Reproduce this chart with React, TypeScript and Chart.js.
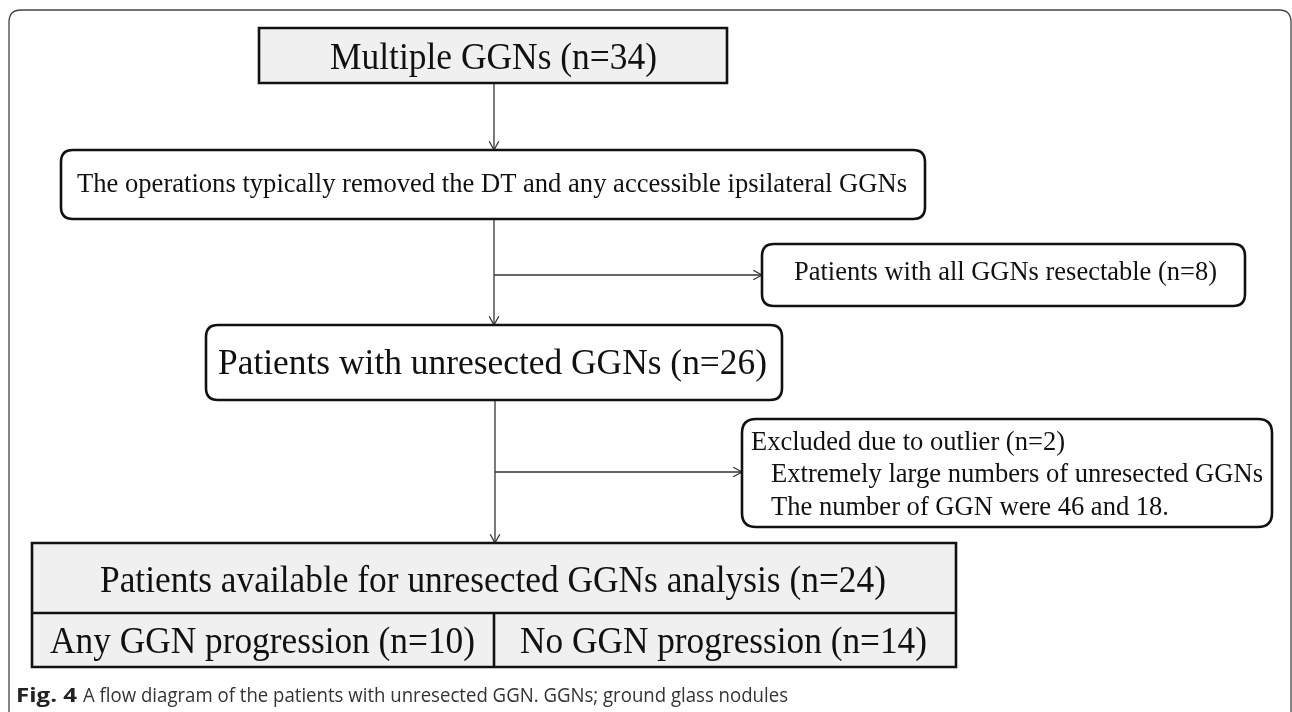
import React, { useEffect, useRef } from "react";
import { Chart, registerables } from "chart.js";

Chart.register(...registerables);

// ---------- content ----------
const nodeLabels = [
  "Multiple GGNs",
  "The operations typically removed the DT and any accessible ipsilateral GGNs",
  "Patients with all GGNs resectable",
  "Patients with unresected GGNs",
  "Excluded due to outlier",
  "Patients available for unresected GGNs analysis",
  "Any GGN progression",
  "No GGN progression",
];
const nodeCounts: (number | null)[] = [34, null, 8, 26, 2, 24, 10, 14];
const excludedNotes = [
  "Extremely large numbers of unresected GGNs",
  "The number of GGN were 46 and 18.",
];
const captionLead = "Fig. 4";
const captionText =
  "A flow diagram of the patients with unresected GGN. GGNs; ground glass nodules";

// ---------- layout (diagram coordinates, mapped through the chart scales) ----------
const W = 1292;
const H = 712;

type Box = { x0: number; y0: number; x1: number; y1: number; r: number; fill: string };
const boxes: Record<string, Box> = {
  start: { x0: 259, y0: 28, x1: 727, y1: 83, r: 0, fill: "#f0f0f0" },
  ops: { x0: 61, y0: 150, x1: 925, y1: 219, r: 12, fill: "#ffffff" },
  resect: { x0: 762, y0: 244, x1: 1245, y1: 306, r: 12, fill: "#ffffff" },
  unres: { x0: 206, y0: 325, x1: 782, y1: 400, r: 12, fill: "#ffffff" },
  excl: { x0: 742, y0: 419, x1: 1272, y1: 527, r: 14, fill: "#ffffff" },
  table: { x0: 32, y0: 543, x1: 956, y1: 667, r: 0, fill: "#f0f0f0" },
};
const tableRowY = 613;
const tableColX = 494;

type TextSpec = { i: number; x: number; y: number; size: number; w: number };
const texts: TextSpec[] = [
  { i: 0, x: 330, y: 69, size: 38, w: 327 },
  { i: 1, x: 77, y: 192, size: 27.5, w: 830 },
  { i: 2, x: 794, y: 280, size: 28, w: 423 },
  { i: 3, x: 218, y: 374, size: 36.5, w: 549 },
  { i: 4, x: 751, y: 450, size: 27, w: 314 },
  { i: 5, x: 100, y: 592, size: 38.5, w: 786 },
  { i: 6, x: 50, y: 653, size: 38, w: 425 },
  { i: 7, x: 520, y: 653, size: 38, w: 407 },
];
const noteSpecs = [
  { x: 771, y: 482, size: 27, w: 492 },
  { x: 771, y: 515, size: 27, w: 398 },
];

// connectors: [x0,y0,x1,y1, arrowhead at end]
const links: [number, number, number, number, boolean][] = [
  [494, 83, 494, 150, true],
  [494, 219, 494, 325, true],
  [494, 275, 762, 275, true],
  [495, 400, 495, 543, true],
  [495, 472, 742, 472, true],
];

const frame = { x0: 9, y0: 10, x1: 1291, y1: 740, r: 12 };

const SERIF = '"Liberation Serif", "Times New Roman", Times, serif';
const SANS = '"Open Sans", "Noto Sans", Arial, sans-serif';

function labelFor(i: number) {
  const c = nodeCounts[i];
  return c === null ? nodeLabels[i] : `${nodeLabels[i]} (n=${c})`;
}

const flowPlugin = {
  id: "flowDiagram",
  afterDatasetsDraw(chart: any) {
    const ctx: CanvasRenderingContext2D = chart.ctx;
    const xs = chart.scales.x;
    const ys = chart.scales.y;
    const px = (v: number) => xs.getPixelForValue(v);
    const py = (v: number) => ys.getPixelForValue(v);

    const roundRect = (x0: number, y0: number, x1: number, y1: number, r: number) => {
      const a = px(x0), b = py(y0), c = px(x1), d = py(y1);
      ctx.beginPath();
      if (r > 0) {
        ctx.moveTo(a + r, b);
        ctx.lineTo(c - r, b);
        ctx.quadraticCurveTo(c, b, c, b + r);
        ctx.lineTo(c, d - r);
        ctx.quadraticCurveTo(c, d, c - r, d);
        ctx.lineTo(a + r, d);
        ctx.quadraticCurveTo(a, d, a, d - r);
        ctx.lineTo(a, b + r);
        ctx.quadraticCurveTo(a, b, a + r, b);
      } else {
        ctx.rect(a, b, c - a, d - b);
      }
      ctx.closePath();
    };

    const fitText = (s: string, x: number, y: number, w: number, font: string, color: string) => {
      ctx.save();
      ctx.font = font;
      ctx.fillStyle = color;
      ctx.textAlign = "left";
      ctx.textBaseline = "alphabetic";
      const natural = ctx.measureText(s).width;
      const sx = (px(x + w) - px(x)) / natural;
      ctx.translate(px(x), py(y));
      ctx.scale(sx, 1);
      ctx.fillText(s, 0, 0);
      ctx.restore();
    };

    ctx.save();
    // outer frame
    roundRect(frame.x0, frame.y0, frame.x1, frame.y1, frame.r);
    ctx.strokeStyle = "#444";
    ctx.lineWidth = 1.3;
    ctx.stroke();

    // connectors
    ctx.strokeStyle = "#333";
    ctx.lineWidth = 1.3;
    for (const [x0, y0, x1, y1, head] of links) {
      ctx.beginPath();
      ctx.moveTo(px(x0), py(y0));
      ctx.lineTo(px(x1), py(y1));
      ctx.stroke();
      if (head) {
        const ang = Math.atan2(py(y1) - py(y0), px(x1) - px(x0));
        const L = 10, sp = 0.5;
        ctx.beginPath();
        ctx.moveTo(px(x1) - L * Math.cos(ang - sp), py(y1) - L * Math.sin(ang - sp));
        ctx.lineTo(px(x1), py(y1));
        ctx.lineTo(px(x1) - L * Math.cos(ang + sp), py(y1) - L * Math.sin(ang + sp));
        ctx.stroke();
      }
    }

    // boxes
    for (const k of Object.keys(boxes)) {
      const b = boxes[k];
      roundRect(b.x0, b.y0, b.x1, b.y1, b.r);
      ctx.fillStyle = b.fill;
      ctx.fill();
      ctx.strokeStyle = "#111";
      ctx.lineWidth = 2.6;
      ctx.stroke();
    }
    // table dividers
    const t = boxes.table;
    ctx.beginPath();
    ctx.moveTo(px(t.x0), py(tableRowY));
    ctx.lineTo(px(t.x1), py(tableRowY));
    ctx.moveTo(px(tableColX), py(tableRowY));
    ctx.lineTo(px(tableColX), py(t.y1));
    ctx.stroke();

    // texts
    for (const s of texts) {
      fitText(labelFor(s.i), s.x, s.y, s.w, `${s.size}px ${SERIF}`, "#111");
    }
    excludedNotes.forEach((n, k) => {
      const s = noteSpecs[k];
      fitText(n, s.x, s.y, s.w, `${s.size}px ${SERIF}`, "#111");
    });

    // caption
    fitText(captionLead, 16, 702, 61, `bold 19.5px ${SANS}`, "#222");
    fitText(captionText, 83, 702, 705, `19.5px ${SANS}`, "#333");
    ctx.restore();
  },
};

export default function App() {
  const ref = useRef<HTMLCanvasElement | null>(null);

  useEffect(() => {
    document.body.style.margin = "0";
    const canvas = ref.current;
    if (!canvas) return;
    const centers = Object.keys(boxes).map((k) => ({
      x: (boxes[k].x0 + boxes[k].x1) / 2,
      y: (boxes[k].y0 + boxes[k].y1) / 2,
    }));
    const chart = new Chart(canvas, {
      type: "scatter",
      data: {
        datasets: [
          {
            label: "nodes",
            data: centers,
            pointRadius: 0,
            pointHoverRadius: 0,
          },
        ],
      },
      options: {
        responsive: false,
        animation: false,
        devicePixelRatio: 1,
        layout: { padding: 0 },
        events: [],
        plugins: { legend: { display: false }, tooltip: { enabled: false } },
        scales: {
          x: { type: "linear", min: 0, max: W, display: false },
          y: { type: "linear", min: 0, max: H, reverse: true, display: false },
        },
      },
      plugins: [flowPlugin],
    });
    return () => chart.destroy();
  }, []);

  return (
    <div style={{ position: "fixed", left: 0, top: 0, width: W, height: H, background: "#fff" }}>
      <canvas ref={ref} width={W} height={H} style={{ width: W, height: H, display: "block" }} />
    </div>
  );
}
